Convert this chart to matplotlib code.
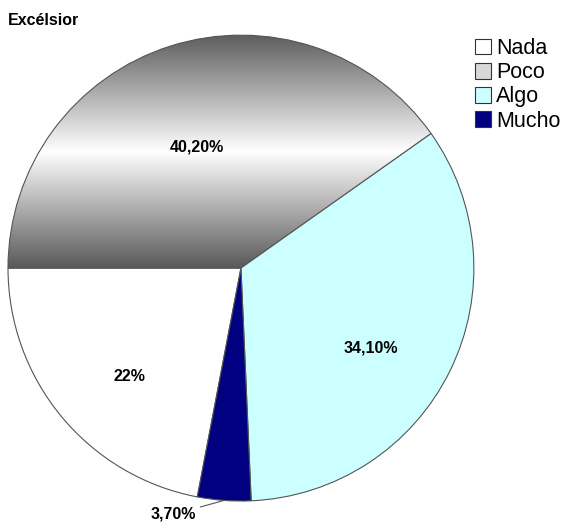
import numpy as np
import matplotlib.pyplot as plt
from matplotlib.colors import LinearSegmentedColormap

plt.rcParams['font.family'] = ['Liberation Sans', 'DejaVu Sans']

labels = ['Nada', 'Poco', 'Algo', 'Mucho']
values = [22.0, 40.2, 34.1, 3.7]
pct_text = ['22%', '40,20%', '34,10%', '3,70%']
colors = ['#ffffff', '#d8d8d8', '#ccffff', '#000080']

fig = plt.figure(figsize=(5.64, 5.27), dpi=100)
ax = fig.add_axes([0.0142, 0.0493, 0.826, 0.884])

wedges, texts = ax.pie(values, colors=colors, startangle=259.2, counterclock=False,
                       radius=1, wedgeprops=dict(edgecolor='#555555', linewidth=0.8))
ax.axis('off')

# vertical gray gradient for Poco (dark - white - dark)
poco = wedges[1]
poco.set_facecolor('none')
cmap = LinearSegmentedColormap.from_list('g', ['#5e5e5e', '#ffffff', '#595959'])
grad = np.linspace(0, 1, 256).reshape(-1, 1)
im = ax.imshow(grad, cmap=cmap, extent=[-1, 1, 0, 1.0], origin='upper',
               aspect='auto', zorder=0.5)
im.set_clip_path(poco)
ax.set_xlim(-1, 1)
ax.set_ylim(-1, 1)

for i, w in enumerate(wedges):
    ang = np.radians((w.theta1 + w.theta2) / 2)
    if labels[i] == 'Mucho':
        x, y = np.cos(ang), np.sin(ang)
        ax.annotate(pct_text[i], xy=(x * 1.0, y * 1.0), xytext=(x - 0.12, y - 0.06),
                    ha='right', va='center', fontsize=11.5, fontweight='bold',
                    arrowprops=dict(arrowstyle='-', color='#555555', lw=0.8,
                                    shrinkA=1, shrinkB=0))
    else:
        r = 0.62
        ax.text(r * np.cos(ang), r * np.sin(ang) - 0.07, pct_text[i], ha='center',
                va='center', fontsize=11.5, fontweight='bold')

fig.text(0.014, 0.962, 'Excélsior', fontsize=11.5, fontweight='bold', ha='left', va='center')

leg = fig.legend(wedges, labels, loc='upper left', bbox_to_anchor=(0.842, 0.928), frameon=False,
                 fontsize=15.5, handlelength=0.75, handleheight=0.75, handletextpad=0.25,
                 labelspacing=0.15, borderaxespad=0, borderpad=0)
for h in leg.legend_handles:
    h.set_edgecolor('#333333')
leg.legend_handles[1].set_facecolor('#d8d8d8')

fig.savefig('out.png', dpi=100)
